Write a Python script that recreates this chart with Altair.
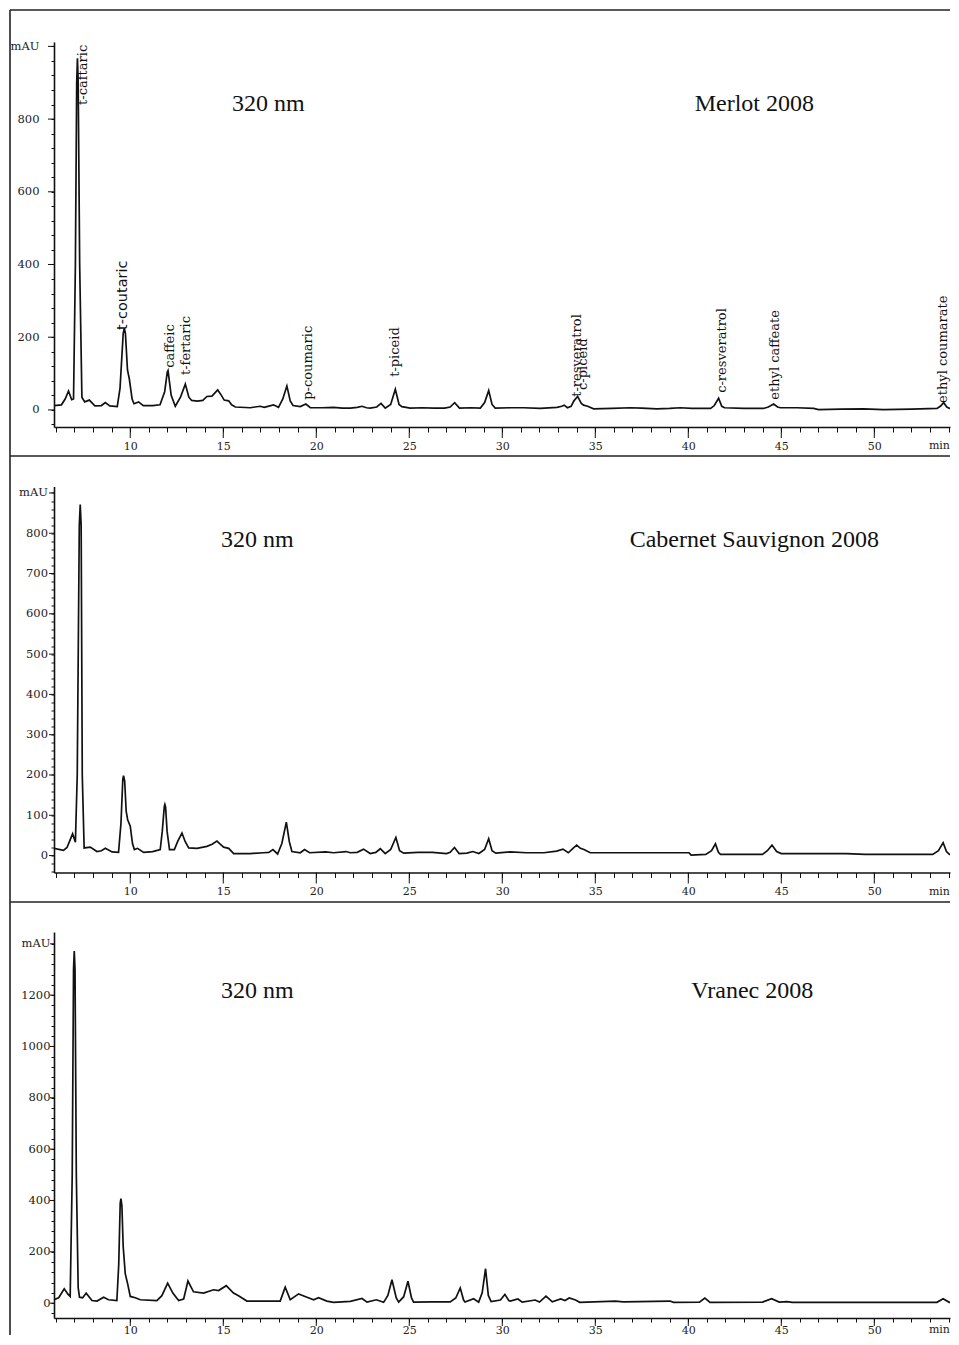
import altair as alt
import pandas as pd

# ---------------- data ----------------
merlot_t = [5.9, 6.3, 6.5, 6.68, 6.85, 6.95, 7.05, 7.12, 7.16, 7.2, 7.28, 7.4, 7.55, 7.8, 8.1, 8.45, 8.66, 8.9,
            9.3, 9.45, 9.62, 9.68, 9.74, 9.85, 9.95, 10.1, 10.2, 10.45, 10.7, 11.2, 11.6, 11.85, 11.99, 12.03,
            12.2, 12.42, 12.7, 12.96, 13.15, 13.3, 13.6, 13.9, 14.12, 14.39, 14.7, 14.9, 15.05, 15.29, 15.45,
            15.65, 16.45, 16.7, 16.99, 17.2, 17.35, 17.7, 17.97, 18.2, 18.42, 18.6, 18.75, 19.14, 19.44, 19.68,
            20.3, 20.93, 21.4, 21.83, 22.2, 22.46, 22.7, 22.9, 23.25, 23.48, 23.71, 24.0, 24.25, 24.45, 24.6,
            25.05, 25.7, 26.31, 26.9, 27.2, 27.44, 27.7, 28.3, 28.82, 29.05, 29.27, 29.45, 29.62, 30.43, 31.15,
            32.04, 32.94, 33.2, 33.33, 33.5, 33.7, 33.85, 34.05, 34.25, 34.37, 34.59, 34.91, 35.9, 36.88, 37.5,
            38.31, 39.0, 39.57, 40.2, 41.2, 41.4, 41.63, 41.8, 41.95, 42.97, 44.04, 44.3, 44.59, 44.8, 44.95,
            45.84, 46.74, 47.0, 48.2, 49.42, 50.5, 52.0, 53.37, 53.55, 53.73, 53.9, 54.05, 54.6]
merlot_v = [12, 14, 30, 52, 28, 30, 400, 900, 967, 900, 400, 35, 22, 27, 11, 12, 20, 11,
            9, 60, 210, 225, 210, 110, 85, 30, 17, 22, 12, 12, 14, 50, 104, 108,
            40, 10, 35, 71, 35, 26, 24, 26, 37, 38, 55, 40, 27, 25, 14,
            8, 6, 8, 10, 7, 9, 14, 7, 30, 66, 25, 12, 9, 16, 6,
            6, 7, 5, 5, 7, 10, 6, 5, 8, 18, 5, 15, 57, 15, 9,
            5, 6, 5, 5, 8, 20, 5, 6, 5, 20, 53, 15, 5, 6, 6,
            4, 7, 10, 13, 6, 10, 25, 37, 18, 13, 10, 3, 4, 6, 5,
            3, 4, 6, 4, 4, 12, 32, 10, 6, 4, 4, 8, 16, 8, 6,
            6, 4, 1, 2, 3, 1, 2, 4, 10, 20, 8, 4, 3]

cabernet_t = [5.9, 6.41, 6.6, 6.9, 7.05, 7.15, 7.26, 7.31, 7.36, 7.42, 7.52, 7.85, 8.21, 8.45, 8.66, 9.02, 9.37,
              9.5, 9.6, 9.64, 9.7, 9.78, 9.86, 10.0, 10.12, 10.22, 10.39, 10.72, 11.2, 11.61, 11.72, 11.83,
              11.86, 11.9, 11.98, 12.11, 12.37, 12.55, 12.78, 12.95, 13.14, 13.59, 14.12, 14.4, 14.66, 14.85,
              15.02, 15.29, 15.56, 16.0, 16.45, 17.17, 17.45, 17.67, 17.92, 18.15, 18.39, 18.55, 18.69, 19.14,
              19.37, 19.64, 20.5, 20.93, 21.6, 21.83, 22.2, 22.54, 22.9, 23.2, 23.44, 23.71, 24.0, 24.28, 24.48,
              24.7, 25.46, 26.25, 27.0, 27.2, 27.43, 27.68, 28.1, 28.42, 28.74, 29.05, 29.27, 29.45, 29.65,
              30.43, 31.3, 32.24, 32.92, 33.26, 33.55, 33.8, 34.0, 34.2, 34.39, 34.73, 36.08, 38.0, 40.04, 40.15,
              40.94, 41.25, 41.46, 41.62, 41.73, 43.99, 44.25, 44.5, 44.75, 45.0, 45.68, 47.37, 48.5, 49.5,
              50.76, 53.14, 53.45, 53.7, 53.88, 54.04, 54.6]
cabernet_v = [18, 13, 20, 54, 33, 200, 820, 871, 820, 200, 19, 21, 10, 12, 18, 9, 8,
              80, 190, 198, 185, 110, 89, 73, 30, 15, 18, 8, 10, 15, 60, 122,
              127, 120, 60, 15, 15, 35, 56, 35, 19, 18, 23, 28, 36, 28,
              21, 18, 5, 5, 5, 7, 8, 15, 4, 30, 83, 35, 10, 7,
              15, 7, 9, 7, 10, 7, 8, 16, 5, 8, 17, 5, 15, 45, 12,
              6, 8, 8, 5, 8, 20, 5, 6, 10, 5, 15, 42, 12, 6,
              9, 7, 7, 11, 16, 7, 18, 26, 18, 15, 7, 7, 7, 7, 1,
              3, 12, 29, 8, 3, 3, 12, 26, 10, 5, 5, 5, 5, 3,
              3, 3, 12, 32, 10, 3, 1]

vranec_t = [5.9, 6.15, 6.45, 6.65, 6.77, 6.88, 6.95, 6.99, 7.03, 7.1, 7.2, 7.27, 7.44, 7.63, 7.94, 8.21, 8.57,
            8.83, 9.28, 9.38, 9.46, 9.5, 9.55, 9.62, 9.73, 9.86, 10.0, 10.27, 10.54, 11.43, 11.7, 12.01, 12.29,
            12.6, 12.87, 13.1, 13.4, 13.94, 14.48, 14.75, 15.16, 15.55, 15.82, 16.27, 17.2, 18.06, 18.33, 18.6,
            19.05, 19.5, 19.86, 20.12, 20.57, 20.93, 21.83, 22.46, 22.73, 23.23, 23.62, 23.85, 24.07, 24.3,
            24.43, 24.7, 24.93, 25.12, 25.23, 26.3, 27.2, 27.5, 27.74, 27.92, 28.0, 28.46, 28.73, 28.92, 29.1,
            29.25, 29.4, 29.9, 30.14, 30.35, 30.43, 30.84, 31.07, 31.77, 32.0, 32.35, 32.69, 33.14, 33.37,
            33.6, 33.94, 34.16, 36.08, 36.5, 39.02, 39.2, 40.6, 40.89, 41.17, 43.99, 44.48, 44.89, 45.3, 45.6,
            53.37, 53.7, 54.03, 54.6]
vranec_v = [13, 21, 56, 35, 26, 500, 1300, 1372, 1300, 500, 60, 23, 21, 39, 10, 8, 23,
            13, 10, 150, 390, 407, 380, 220, 115, 75, 26, 21, 13, 10, 29, 78, 39,
            10, 16, 86, 44, 39, 52, 49, 68, 39, 29, 8, 8, 8, 62, 13,
            36, 23, 13, 21, 8, 3, 7, 18, 4, 13, 3, 30, 91, 20,
            4, 25, 85, 20, 4, 5, 5, 20, 59, 12, 4, 17, 4, 40, 134,
            30, 6, 12, 34, 10, 8, 16, 4, 12, 4, 27, 5, 16, 10,
            20, 12, 3, 8, 5, 8, 3, 4, 20, 3, 4, 17, 4, 6, 3,
            3, 17, 3, 3]

# peak labels of the Merlot chromatogram (time, mAU where the label starts)
peak_names = ["t-caftaric", "t-coutaric", "caffeic", "t-fertaric", "p-coumaric", "t-piceid",
              "t-resveratrol", "c-piceid", "c-resveratrol", "ethyl caffeate", "ethyl coumarate"]
peak_t = [7.47, 9.62, 12.15, 13.01, 19.57, 24.25, 34.03, 34.35, 41.83, 44.68, 53.7]
peak_v = [839, 220, 116, 96, 28, 91, 36, 55, 47, 28, 19]
peak_sans = [False, True, False, False, False, False, False, False, False, False, False]

wavelength_label = "320 nm"
sample_names = ["Merlot 2008", "Cabernet Sauvignon 2008", "Vranec 2008"]
wavelength_t = [17.42, 16.83, 16.83]
wavelength_v = [842, 782, 1215]
name_t = [43.55, 43.55, 43.44]
name_v = [842, 782, 1215]

x_domain = [5.9, 54.07]
x_major = [10, 15, 20, 25, 30, 35, 40, 45, 50]
x_unit_label = "min"
x_unit_t = 53.5
y_domains = [[-47, 1012], [-42, 916], [-58, 1446]]
y_top_tick = [1000, 900, 1400]
y_major_step = [200, 100, 200]
y_minor_step = [40, 20, 40]

# ---------------- layout / style ----------------
W = 896
heights = [385, 386, 386]
frame_top = [-32, -30.5, -30]
frame_bottom = [414, 415.5, 403]
y_label_pad = [12, 3.5, 1]
y_major_len = [6, 5, 4]
x_minor_len = [5, 5, 4]
x_label_pad = [8, 8, 2]
x_major_len = [11, 11, 8]
SERIF = "DejaVu Serif"
INK = "#111"


def make_panel(i, t, v, with_labels=False):
    df = pd.DataFrame({"t": t, "v": v})
    H = heights[i]
    top, maj, mnr = y_top_tick[i], y_major_step[i], y_minor_step[i]
    xs = alt.Scale(domain=x_domain, nice=False, zero=False)
    ys = alt.Scale(domain=y_domains[i], nice=False, zero=False)
    xaxis = alt.Axis(
        values=list(range(6, 55)), format="d",
        labelExpr="datum.value % 5 === 0 ? datum.label : ''",
        tickSize=x_minor_len[i], labelPadding=x_label_pad[i],
        labelOverlap=False, labelFlush=False, grid=False,
        labelFont=SERIF, labelFontSize=11, labelColor="#222",
        domainColor=INK, domainWidth=1.6, tickColor=INK, tickWidth=1,
    )
    yaxis = alt.Axis(
        values=list(range(-40, top + 1, mnr)), format="d",
        labelExpr=(f"datum.value === {top} ? 'mAU' : ((datum.value >= 0 && datum.value % {maj} === 0) "
                   f"? datum.label : '')"),
        tickSize=3, labelPadding=y_label_pad[i],
        labelOverlap=False, labelFlush=False, grid=False,
        labelFont=SERIF, labelFontSize=11.5, labelColor="#222",
        domainColor=INK, domainWidth=1.6, tickColor=INK, tickWidth=1,
    )
    X = alt.X("t:Q", scale=xs, axis=xaxis, title=None)
    Y = alt.Y("v:Q", scale=ys, axis=yaxis, title=None)

    line = alt.Chart(df).mark_line(color=INK, strokeWidth=1.7, clip=True).encode(x=X, y=Y)

    # longer major ticks, positioned through the scales
    xmaj = alt.Chart(pd.DataFrame({"t": x_major})).mark_rule(color=INK, strokeWidth=1).encode(
        x=X, y=alt.value(H), y2=alt.value(H + x_major_len[i]))
    ymaj_vals = [val for val in range(0, top + 1, maj)]
    ymaj = alt.Chart(pd.DataFrame({"v": ymaj_vals})).mark_rule(color=INK, strokeWidth=1).encode(
        y=Y, x=alt.value(-y_major_len[i]), x2=alt.value(0))

    # "min" unit label at the right end of the time axis
    unit = alt.Chart(pd.DataFrame({"t": [x_unit_t], "label": [x_unit_label]})).mark_text(
        font=SERIF, fontSize=11, color="#222", baseline="top", align="center"
    ).encode(x=X, y=alt.value(H + x_minor_len[i] + x_label_pad[i]), text="label:N")

    tdf = pd.DataFrame({"label": [wavelength_label, sample_names[i]],
                        "t": [wavelength_t[i], name_t[i]],
                        "v": [wavelength_v[i], name_v[i]]})
    titles = alt.Chart(tdf).mark_text(font="Liberation Serif", fontSize=24, color=INK,
                                      baseline="middle", align="center").encode(x=X, y=Y, text="label:N")

    fdf = pd.DataFrame({"k": [0]})
    hrule = alt.Chart(fdf).mark_rule(color="#222", strokeWidth=1.6).encode(
        x=alt.value(-44), x2=alt.value(W), y=alt.value(frame_top[i]))
    vrule = alt.Chart(fdf).mark_rule(color="#222", strokeWidth=1.6).encode(
        x=alt.value(-44), y=alt.value(frame_top[i]), y2=alt.value(frame_bottom[i]))

    layers = [hrule, vrule, line, xmaj, ymaj, unit, titles]
    if with_labels:
        pdf = pd.DataFrame({"label": peak_names, "t": peak_t, "v": peak_v, "sans": peak_sans})
        serif_lab = alt.Chart(pdf).transform_filter("!datum.sans").mark_text(
            angle=270, align="left", baseline="middle", font=SERIF, fontSize=13, color=INK
        ).encode(x=X, y=Y, text="label:N")
        sans_lab = alt.Chart(pdf).transform_filter("datum.sans").mark_text(
            angle=270, align="left", baseline="middle", font="DejaVu Sans", fontSize=14.5, color=INK
        ).encode(x=X, y=Y, text="label:N")
        layers += [serif_lab, sans_lab]
    return alt.layer(*layers).properties(width=W, height=H)


p1 = make_panel(0, merlot_t, merlot_v, with_labels=True)
p2 = make_panel(1, cabernet_t, cabernet_v)
p3 = make_panel(2, vranec_t, vranec_v)

chart = alt.vconcat(p1, p2, p3, spacing=59.5, bounds="flush").properties(
    padding={"left": 1, "top": 1, "right": 0, "bottom": 0}
).configure_view(stroke=None)

chart.save("out.html", embed_options={"renderer": "svg", "actions": False})
